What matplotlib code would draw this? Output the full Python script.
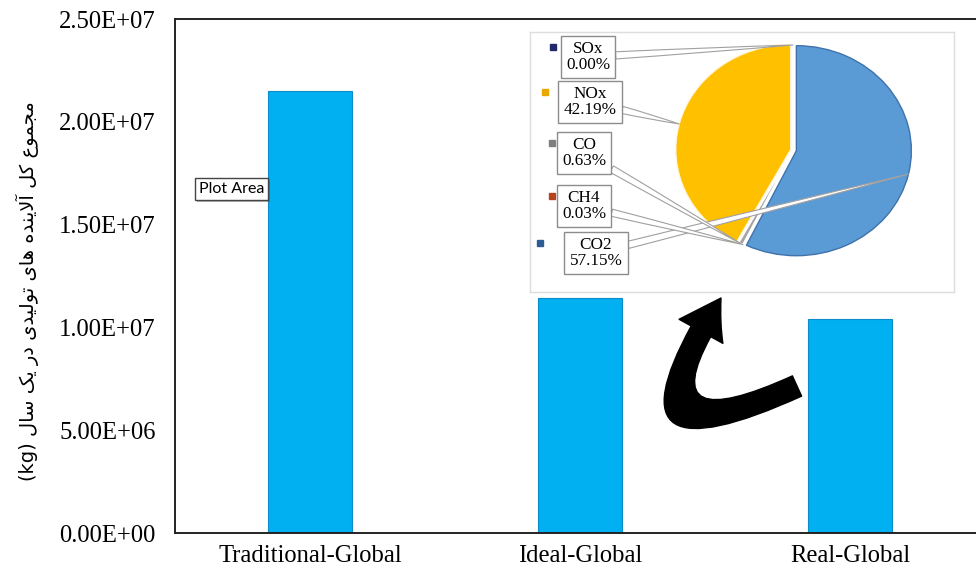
import matplotlib
matplotlib.use("Agg")
import matplotlib.pyplot as plt
import matplotlib.patheffects as pe
import numpy as np

# bar data
scenarios = ["Traditional-Global", "Ideal-Global", "Real-Global"]
totals = [2.15e7, 1.143e7, 1.041e7]
yticks = [0, 5e6, 1e7, 1.5e7, 2e7, 2.5e7]

# pie inset data (clockwise from 12 o'clock)
gases = ["CO2", "CH4", "CO", "NOx", "SOx"]
shares = [57.15, 0.03, 0.63, 42.19, 0.00]
pie_colors = ["#5B9BD5", "#C55A11", "#A5A5A5", "#FFC000", "#264478"]
key_colors = ["#2E5C94", "#B5441E", "#7F7F7F", "#E8A800", "#1F2A6B"]

ylabel_fa = "مجموع کل آلاینده های تولیدی در یک سال"


def shape_fa(text):
    # minimal persian shaping -> presentation forms, visual order
    forms = {
        "ا": (0xFE8D, 0xFE8E), "آ": (0xFE81, 0xFE82),
        "د": (0xFEA9, 0xFEAA), "ر": (0xFEAD, 0xFEAE), "و": (0xFEED, 0xFEEE),
        "ت": (0xFE95, 0xFE96, 0xFE97, 0xFE98), "ج": (0xFE9D, 0xFE9E, 0xFE9F, 0xFEA0),
        "س": (0xFEB1, 0xFEB2, 0xFEB3, 0xFEB4), "ع": (0xFEC9, 0xFECA, 0xFECB, 0xFECC),
        "ک": (0xFB8E, 0xFB8F, 0xFB90, 0xFB91), "ل": (0xFEDD, 0xFEDE, 0xFEDF, 0xFEE0),
        "م": (0xFEE1, 0xFEE2, 0xFEE3, 0xFEE4), "ن": (0xFEE5, 0xFEE6, 0xFEE7, 0xFEE8),
        "ه": (0xFEE9, 0xFEEA, 0xFEEB, 0xFEEC), "ی": (0xFBFC, 0xFBFD, 0xFBFE, 0xFBFF),
    }
    out = []
    i = 0
    n = len(text)
    while i < n:
        c = text[i]
        if c not in forms:
            out.append(c)
            i += 1
            continue
        prev = i > 0 and text[i - 1] in forms and len(forms[text[i - 1]]) == 4
        if c == "ل" and i + 1 < n and text[i + 1] in "اآ":
            lig = (0xFEFB, 0xFEFC) if text[i + 1] == "ا" else (0xFEF5, 0xFEF6)
            out.append(chr(lig[1] if prev else lig[0]))
            i += 2
            continue
        f = forms[c]
        nxt = len(f) == 4 and i + 1 < n and text[i + 1] in forms
        if len(f) == 2:
            out.append(chr(f[1] if prev else f[0]))
        else:
            if prev and nxt:
                out.append(chr(f[3]))
            elif prev:
                out.append(chr(f[1]))
            elif nxt:
                out.append(chr(f[2]))
            else:
                out.append(chr(f[0]))
        i += 1
    return "".join(reversed(out))


W, H = 976, 573


def fpx(x, y):
    # image pixel (top-left origin) -> figure pixels
    return (x, H - y)


fig = plt.figure(figsize=(9.76, 5.73), dpi=100)
ax = fig.add_axes([175 / W, 1 - 533 / H, 810 / W, 514 / H])

x = np.arange(len(scenarios))
ax.bar(x, totals, width=0.31, color="#00B0F0", edgecolor="#0C8CCB", linewidth=0.8)
ax.set_xlim(-0.5, 2.5)
ax.set_ylim(0, 2.5e7)
ax.set_yticks(yticks)
ax.set_yticklabels(["{:.2E}".format(v) for v in yticks], family="Liberation Serif", fontsize=17.7)
ax.set_xticks(x)
ax.set_xticklabels(scenarios, family="Liberation Serif", fontsize=17.7)
ax.tick_params(axis="y", length=0, pad=14)
ax.tick_params(axis="x", length=0, pad=9)
for s in ["left", "bottom", "top"]:
    ax.spines[s].set_linewidth(1.4)
    ax.spines[s].set_color("#222222")
ax.spines["right"].set_visible(False)

ax.set_ylabel("(kg) " + shape_fa(ylabel_fa), family="DejaVu Sans", fontsize=14)
ax.yaxis.set_label_coords((39 - 175) / 810, (533 - 291) / 514)

# "Plot Area" tooltip
tip = ax.text(199 / W, 1 - 189 / H, "Plot Area", transform=fig.transFigure, family="Lato",
              fontsize=11.5, va="center", ha="left",
              bbox=dict(boxstyle="square,pad=0.25", fc="white", ec="#444444", lw=1))
tip.get_bbox_patch().set_path_effects([pe.SimplePatchShadow(offset=(1.5, -1.5), alpha=0.4), pe.Normal()])

# inset box
ax_in = fig.add_axes([530 / W, 1 - 292 / H, 424 / W, 260 / H])
ax_in.set_xticks([])
ax_in.set_yticks([])
for s in ax_in.spines.values():
    s.set_color("#DDDDDD")
    s.set_linewidth(1)

# pie, stretched to an ellipse
cx, cy, rx, ry = 793, 150, 115, 105
ax_pie = fig.add_axes([(cx - 1.1 * rx) / W, 1 - (cy + 1.1 * ry) / H, 2.2 * rx / W, 2.2 * ry / H])
wedges, _ = ax_pie.pie(shares, colors=pie_colors, startangle=90, counterclock=False,
                       explode=[0.03, 0, 0, 0.02, 0],
                       wedgeprops=dict(linewidth=1.0, edgecolor="white"))
wedges[0].set_edgecolor("#3F72AC")
wedges[3].set_edgecolor("#FFF6DA")
ax_pie.set_aspect("auto")
ax_pie.set_xlim(-1.1, 1.1)
ax_pie.set_ylim(-1.1, 1.1)
ax_pie.axis("off")

label_pos = {"CO2": (596, 253), "CH4": (584, 206), "CO": (584, 153), "NOx": (590, 102), "SOx": (588, 57)}
key_x = {"CO2": 540, "CH4": 552, "CO": 552, "NOx": 545, "SOx": 553}
for w, g, v, kc in zip(wedges, gases, shares, key_colors):
    mid = np.deg2rad((w.theta1 + w.theta2) / 2)
    px, py = w.center[0] + w.r * np.cos(mid), w.center[1] + w.r * np.sin(mid)
    tx, ty = label_pos[g]
    ax_pie.annotate(f"{g}\n{v:.2f}%", xy=(px, py), xycoords="data",
                    xytext=fpx(tx, ty), textcoords="figure pixels",
                    ha="center", va="center", family="Liberation Serif", fontsize=12.3,
                    linespacing=1.05, annotation_clip=False,
                    bbox=dict(boxstyle="square,pad=0.3", fc="white", ec="#8C8C8C", lw=1),
                    arrowprops=dict(arrowstyle="wedge,tail_width=0.42,shrink_factor=0.6",
                                    fc="white", ec="#A0A0A0", lw=0.8, shrinkA=0, shrinkB=0))
    ax_in.plot([key_x[g] / W], [1 - (ty - 10) / H], marker="s", ms=4, color=kc,
               transform=fig.transFigure, clip_on=False)

# big curved arrow
ax.annotate("", xy=fpx(721, 298), xycoords="figure pixels",
            xytext=fpx(797, 386), textcoords="figure pixels",
            arrowprops=dict(arrowstyle="simple,head_length=1.4,head_width=1.8,tail_width=0.8",
                            connectionstyle="arc3,rad=-1.7", fc="black", ec="black",
                            mutation_scale=20, shrinkA=0, shrinkB=0))

fig.savefig("out.png", dpi=100)
